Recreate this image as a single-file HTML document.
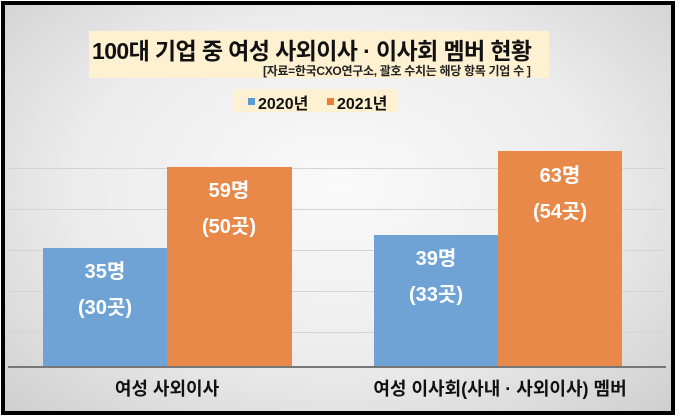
<!DOCTYPE html>
<html><head><meta charset="utf-8"><style>
body{margin:0;width:680px;height:417px;overflow:hidden;background:#fff;font-family:"Liberation Sans","Noto Sans CJK KR",sans-serif}
.frame{position:absolute;left:1px;top:1px;width:666px;height:406px;border:4px solid #000;background:radial-gradient(ellipse at 50% 45%,#fafafa 0%,#ececec 55%,#cfcfcf 100%)}
.g{position:absolute;left:3px;width:658px;height:1px;background:#d4d4d4}
.bar{position:absolute}
.b{background:#6fa3d6}.o{background:#e8894a}
.lbl{position:absolute;color:#fff;font-weight:bold;font-size:20px;text-align:center;width:124px;line-height:36px}
.cat{position:absolute;top:368px;font-weight:bold;font-size:18px;color:#111;text-align:center}
</style></head><body>
<div class="frame">
<div style="position:absolute;left:84px;top:26px;width:460px;height:47px;background:#fdf1d2"></div>
<div style="position:absolute;left:87px;top:27px;font-size:23px;font-weight:bold;color:#111;letter-spacing:-0.6px;white-space:nowrap">100대 기업 중 여성 사외이사 ·  이사회 멤버 현황</div>
<div style="position:absolute;left:258px;top:57px;font-size:12px;font-weight:bold;color:#222;white-space:nowrap;letter-spacing:-0.3px">[자료=한국CXO연구소, 괄호 수치는 해당 항목 기업 수 ]</div>
<div style="position:absolute;left:229px;top:84px;width:164px;height:23px;background:#fdf1d2"></div>
<div style="position:absolute;left:243px;top:93px;width:7px;height:7px;background:#5b9bd5"></div>
<div style="position:absolute;left:253px;top:85px;font-size:16px;font-weight:bold;color:#111">2020년</div>
<div style="position:absolute;left:322px;top:93px;width:7px;height:7px;background:#ed7d31"></div>
<div style="position:absolute;left:332px;top:85px;font-size:16px;font-weight:bold;color:#111">2021년</div>
<div class="g" style="top:163px"></div><div class="g" style="top:204px"></div><div class="g" style="top:245px"></div><div class="g" style="top:286px"></div><div class="g" style="top:327px"></div>
<div class="bar b" style="left:38px;top:243px;width:124px;height:118px"></div>
<div class="bar o" style="left:162px;top:162px;width:125px;height:199px"></div>
<div class="bar b" style="left:369px;top:230px;width:124px;height:131px"></div>
<div class="bar o" style="left:493px;top:146px;width:124px;height:215px"></div>
<div style="position:absolute;left:3px;top:361px;width:658px;height:2px;background:#777"></div>
<div class="lbl" style="left:38px;top:249px">35명<br>(30곳)</div>
<div class="lbl" style="left:162px;top:168px">59명<br>(50곳)</div>
<div class="lbl" style="left:369px;top:236px">39명<br>(33곳)</div>
<div class="lbl" style="left:493px;top:153px">63명<br>(54곳)</div>
<div class="cat" style="left:62px;width:200px;top:370px">여성 사외이사</div>
<div class="cat" style="left:345px;width:300px;top:370px">여성 이사회(사내 · 사외이사) 멤버</div>
</div>
</body></html>
